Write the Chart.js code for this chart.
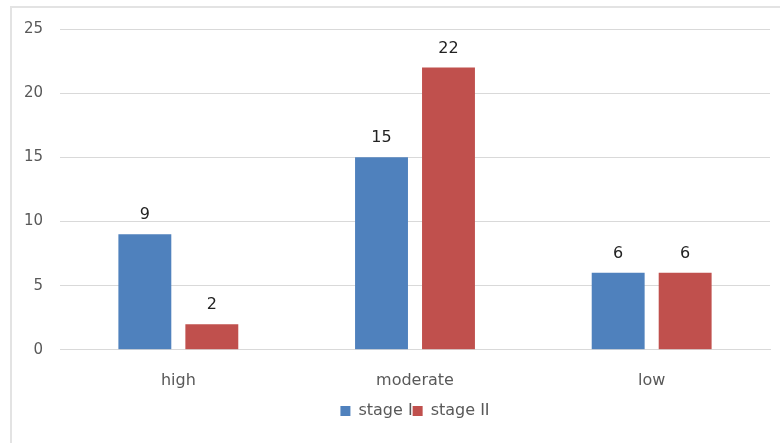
<!DOCTYPE html>
<html>
<head>
<meta charset="utf-8">
<script src="https://cdn.jsdelivr.net/npm/chart.js@4/dist/chart.umd.min.js"></script>
<style>
    body { margin: 0; background: #fff; }
    #frame { position: absolute; left: 10px; top: 6px; width: 790px; height: 450px; border: 2px solid #e3e3e3; }
    #wrap { position: absolute; left: 0; top: 0; width: 780px; height: 443px; }
</style>
</head>
<body>
<div id="frame"></div>
<div id="wrap"><canvas id="chart" width="780" height="443"></canvas></div>
<script>
const categories = ["high", "moderate", "low"];
const stageOne = [9, 15, 6];
const stageTwo = [2, 22, 6];
const yTicks = [0, 5, 10, 15, 20, 25];

const FONT = "'DejaVu Sans', Verdana, sans-serif";

// draws the value above each bar, like the excel data labels
const valueLabels = {
    id: "valueLabels",
    afterDatasetsDraw(chart) {
        const ctx = chart.ctx;
        ctx.save();
        ctx.font = "16px " + FONT;
        ctx.fillStyle = "#222";
        ctx.textAlign = "center";
        ctx.textBaseline = "bottom";
        chart.data.datasets.forEach((ds, i) => {
            chart.getDatasetMeta(i).data.forEach((bar, j) => {
                ctx.fillText(ds.data[j], bar.x, bar.y - 11);
            });
        });
        ctx.restore();
    }
};

new Chart(document.getElementById("chart"), {
    type: "bar",
    data: {
        labels: categories,
        datasets: [{
            label: "stage I",
            data: stageOne,
            backgroundColor: "#4F81BD"
        },
        {
            label: "stage II",
            data: stageTwo,
            backgroundColor: "#C0504D"
        }]
    },
    options: {
        responsive: false,
        animation: false,
        categoryPercentage: 0.566,
        barPercentage: 0.79,
        layout: {
            padding: { left: 0, right: 10, top: 29, bottom: 14 }
        },
        scales: {
            x: {
                grid: { display: false },
                border: { color: "#d9d9d9" },
                ticks: {
                    color: "#595959",
                    padding: 13,
                    font: { family: FONT, size: 16 }
                }
            },
            y: {
                min: 0,
                max: 25,
                afterFit(scale) { scale.width = 60; },
                afterBuildTicks(scale) { scale.ticks = yTicks.map(v => ({ value: v })); },
                grid: { color: "#d9d9d9", drawTicks: false },
                border: { display: false },
                ticks: {
                    color: "#595959",
                    padding: 17,
                    font: { family: FONT, size: 15 }
                }
            }
        },
        plugins: {
            tooltip: { enabled: false },
            legend: {
                position: "bottom",
                fullSize: false,
                labels: {
                    color: "#595959",
                    boxWidth: 10,
                    boxHeight: 10,
                    padding: 0,
                    font: { family: FONT, size: 16 }
                }
            }
        }
    },
    plugins: [valueLabels]
});
</script>
</body>
</html>
